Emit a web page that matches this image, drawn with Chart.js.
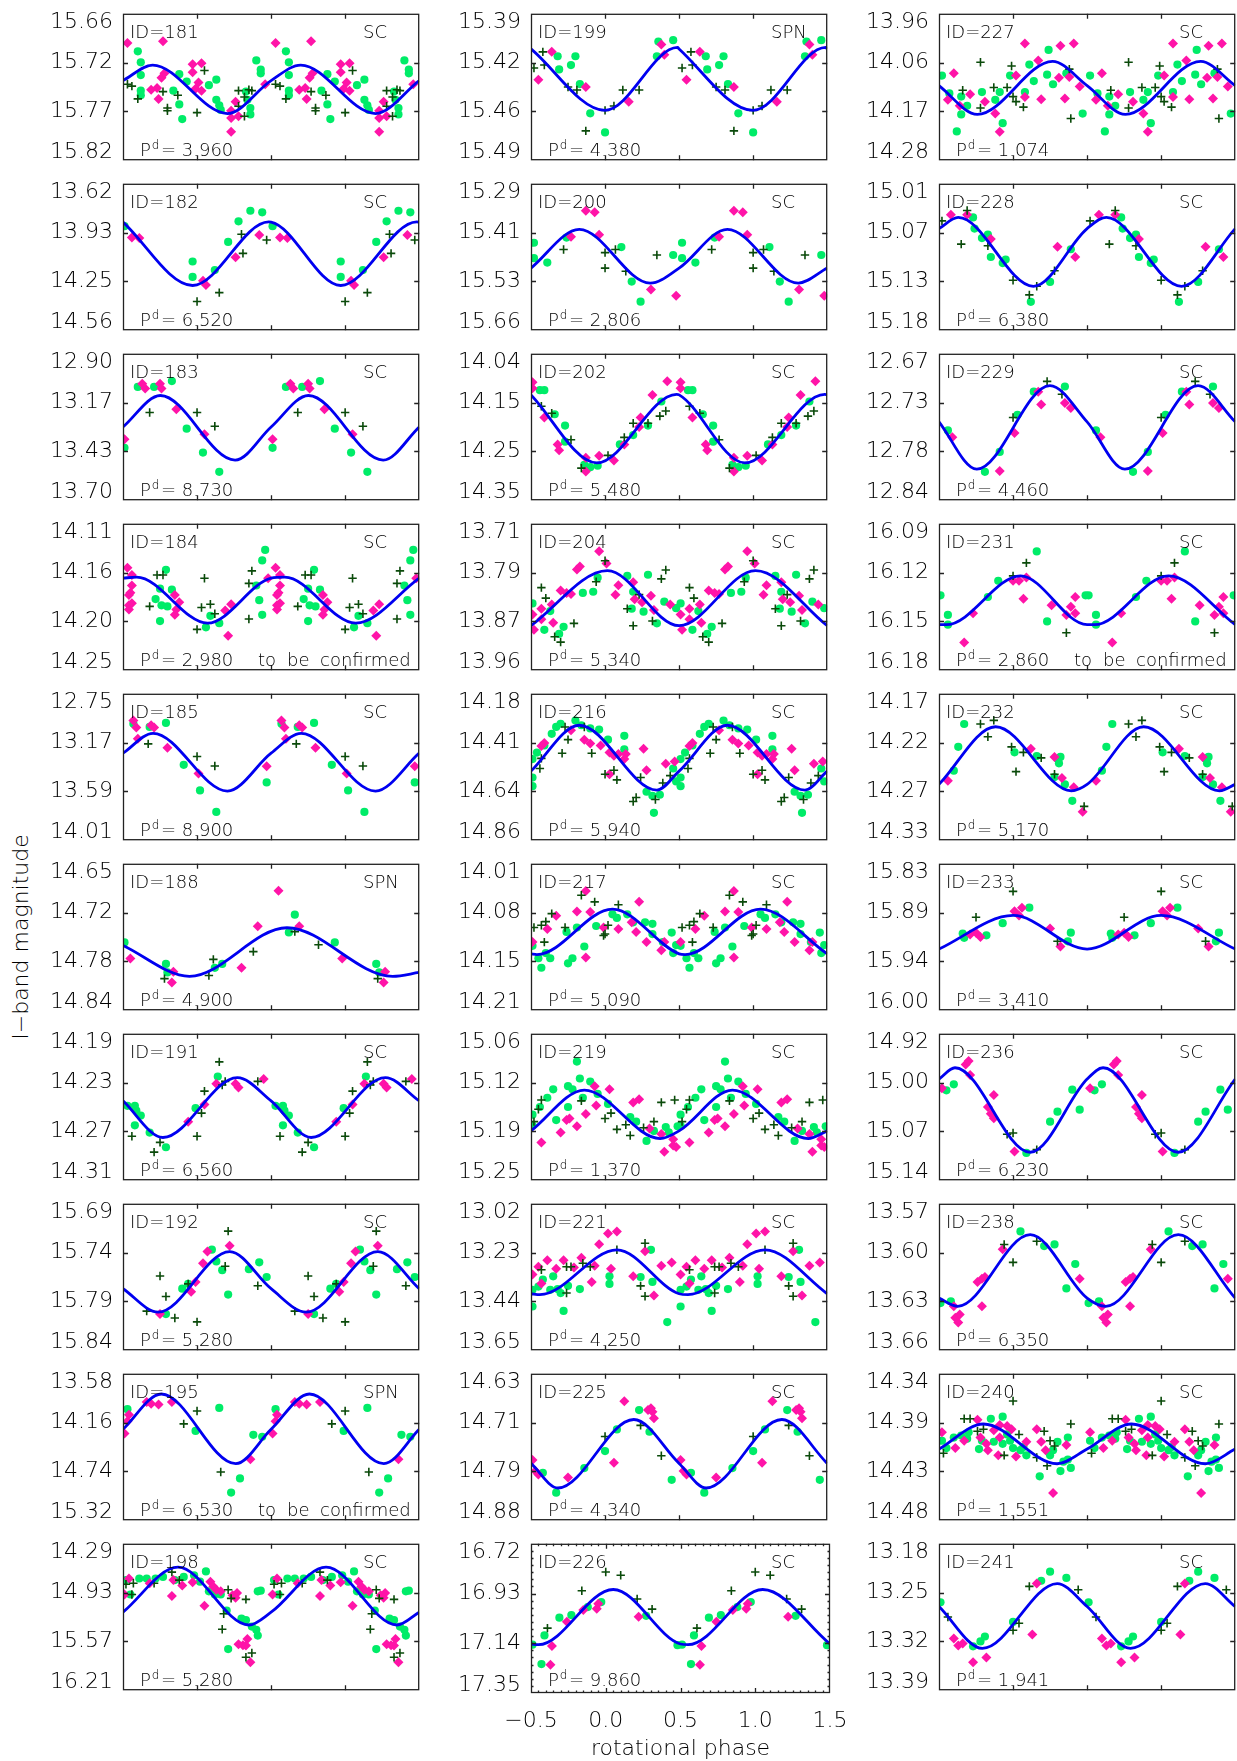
<!DOCTYPE html>
<html>
<head>
<meta charset="utf-8">
<script src="https://cdn.jsdelivr.net/npm/chart.js@4.4.0/dist/chart.umd.min.js"></script>
<style>
  html, body { margin: 0; padding: 0; background: #fff; }
  body { position: relative; width: 1237px; height: 1761px; overflow: hidden; }
  canvas { position: absolute; }
  #ytitle { position: absolute; left: 20px; top: 937px; transform: translate(-50%, -50%) rotate(-90deg);
            font: 200 22px "DejaVu Sans", sans-serif; color: #000; white-space: nowrap; }
</style>
</head>
<body>
<div id="ytitle">I−band magnitude</div>
<script>
// panels, column by column, top to bottom
const columnIds = [
  [181, 182, 183, 184, 185, 188, 191, 192, 195, 198],
  [199, 200, 202, 204, 216, 217, 219, 221, 225, 226],
  [227, 228, 229, 231, 232, 233, 236, 238, 240, 241]
];
const spnIds = [199, 188, 195];
const unconfirmedIds = [184, 195, 231];
const unfoldedIds = [188];      // points listed over the whole -0.5..1.5 range
const minorTickIds = [226];

const periods = {
  181: 3.960, 182: 6.520, 183: 8.730, 184: 2.980, 185: 8.900, 188: 4.900, 191: 6.560, 192: 5.280, 195: 6.530, 198: 5.280,
  199: 4.380, 200: 2.806, 202: 5.480, 204: 5.340, 216: 5.940, 217: 5.090, 219: 1.370, 221: 4.250, 225: 4.340, 226: 9.860,
  227: 1.074, 228: 6.380, 229: 4.460, 231: 2.860, 232: 5.170, 233: 3.410, 236: 6.230, 238: 6.350, 240: 1.551, 241: 1.941
};

const yTickLabels = {
  181: ['15.66','15.72','15.77','15.82'], 182: ['13.62','13.93','14.25','14.56'],
  183: ['12.90','13.17','13.43','13.70'], 184: ['14.11','14.16','14.20','14.25'],
  185: ['12.75','13.17','13.59','14.01'], 188: ['14.65','14.72','14.78','14.84'],
  191: ['14.19','14.23','14.27','14.31'], 192: ['15.69','15.74','15.79','15.84'],
  195: ['13.58','14.16','14.74','15.32'], 198: ['14.29','14.93','15.57','16.21'],
  199: ['15.39','15.42','15.46','15.49'], 200: ['15.29','15.41','15.53','15.66'],
  202: ['14.04','14.15','14.25','14.35'], 204: ['13.71','13.79','13.87','13.96'],
  216: ['14.18','14.41','14.64','14.86'], 217: ['14.01','14.08','14.15','14.21'],
  219: ['15.06','15.12','15.19','15.25'], 221: ['13.02','13.23','13.44','13.65'],
  225: ['14.63','14.71','14.79','14.88'], 226: ['16.72','16.93','17.14','17.35'],
  227: ['13.96','14.06','14.17','14.28'], 228: ['15.01','15.07','15.13','15.18'],
  229: ['12.67','12.73','12.78','12.84'], 231: ['16.09','16.12','16.15','16.18'],
  232: ['14.17','14.22','14.27','14.33'], 233: ['15.83','15.89','15.94','16.00'],
  236: ['14.92','15.00','15.07','15.14'], 238: ['13.57','13.60','13.63','13.66'],
  240: ['14.34','14.39','14.43','14.48'], 241: ['13.18','13.25','13.32','13.39']
};

const xTickValues = [-0.5, 0, 0.5, 1, 1.5];
const xTickLabels = ['−0.5', '0.0', '0.5', '1.0', '1.5'];

// fitted curve: edge value and extrema over one cycle [phase, mag]
const fitKnots = {
  181: [[-0.5,15.733],[-0.30,15.716],[0.205,15.769]],
  182: [[-0.5,13.866],[-0.03,14.273],[0.484,13.865]],
  183: [[-0.5,13.300],[-0.248,13.128],[0.257,13.481]],
  184: [[-0.5,14.162],[-0.408,14.161],[0.071,14.205]],
  185: [[-0.5,13.261],[-0.297,13.090],[0.205,13.587]],
  188: [[-0.5,14.756],[-0.051,14.796],[0.607,14.733],[1.321,14.796],[1.5,14.791]],
  191: [[-0.5,14.245],[-0.230,14.275],[0.272,14.226]],
  192: [[-0.5,15.777],[-0.263,15.801],[0.221,15.739]],
  195: [[-0.5,14.240],[-0.241,13.820],[0.261,14.648]],
  198: [[-0.5,15.187],[-0.129,14.597],[0.350,15.355]],
  199: [[-0.5,15.414],[0.0,15.456],[0.49,15.413]],
  200: [[-0.5,15.503],[-0.174,15.405],[0.305,15.541]],
  202: [[-0.5,14.127],[-0.056,14.271],[0.483,14.126]],
  204: [[-0.5,13.884],[0.016,13.790]],
  216: [[-0.5,14.539],[-0.174,14.326],[0.350,14.627]],
  217: [[-0.5,14.133],[-0.46,14.134],[0.05,14.072]],
  219: [[-0.5,15.186],[-0.140,15.133],[0.372,15.196]],
  221: [[-0.5,13.407],[-0.44,13.411],[0.08,13.218]],
  225: [[-0.5,14.783],[-0.318,14.825],[0.194,14.708]],
  226: [[-0.5,17.143],[-0.45,17.146],[0.05,16.913]],
  227: [[-0.5,14.117],[-0.241,14.180],[0.267,14.064]],
  228: [[-0.5,15.062],[-0.370,15.049],[0.138,15.129]],
  229: [[-0.5,12.749],[-0.245,12.804],[0.249,12.707]],
  231: [[-0.5,16.152],[-0.45,16.152],[0.05,16.122]],
  232: [[-0.5,14.269],[-0.118,14.206],[0.394,14.276]],
  233: [[-0.5,15.929],[0.0,15.890]],
  236: [[-0.5,14.988],[-0.392,14.971],[0.116,15.098]],
  238: [[-0.5,13.628],[-0.374,13.633],[0.116,13.589]],
  240: [[-0.5,14.412],[-0.200,14.388],[0.298,14.426]],
  241: [[-0.5,13.270],[-0.207,13.330],[0.298,13.237]]
};

// green circles [phase, mag], one cycle
const greenPts = {
  181: [[-0.40,15.701],[-0.38,15.713],[-0.38,15.727],[-0.38,15.744],[-0.38,15.749],[-0.16,15.744],[-0.12,15.726],[-0.12,15.759],[-0.10,15.775],[-0.07,15.734],[0.08,15.738],[0.13,15.732],[0.13,15.754],[0.15,15.760],[0.16,15.765],[0.33,15.745],[0.34,15.754],[0.36,15.763],[0.36,15.770],[0.40,15.711],[0.43,15.721],[0.43,15.725]],
  182: [[-0.49,13.892],[-0.03,14.119],[-0.03,14.218],[0.12,14.174],[0.21,13.993],[0.28,13.861],[0.36,13.793],[0.44,13.803]],
  183: [[-0.49,13.414],[-0.40,13.081],[-0.29,13.081],[-0.17,13.049],[-0.07,13.309],[0.04,13.440],[0.15,13.545]],
  184: [[-0.21,14.154],[-0.25,14.172],[-0.28,14.182],[-0.24,14.188],[-0.20,14.189],[-0.17,14.173],[-0.25,14.203],[0.06,14.209],[0.09,14.198],[0.15,14.205],[0.46,14.135],[0.44,14.145],[0.40,14.169],[0.42,14.183],[0.44,14.197]],
  185: [[-0.43,13.007],[-0.32,13.035],[-0.21,13.001],[-0.09,13.361],[0.02,13.582],[0.13,13.767],[0.47,13.513]],
  188: [[-0.49,14.752],[-0.21,14.780],[-0.20,14.791],[0.12,14.785],[0.17,14.780],[0.62,14.739],[0.66,14.716],[0.93,14.752],[1.21,14.780],[1.23,14.791]],
  191: [[-0.47,14.249],[-0.42,14.249],[-0.41,14.253],[-0.38,14.257],[-0.42,14.265],[-0.32,14.271],[-0.21,14.283],[-0.01,14.251],[0.14,14.225]],
  192: [[-0.21,15.803],[-0.10,15.777],[-0.06,15.772],[0.10,15.737],[0.13,15.749],[0.17,15.758],[0.21,15.783],[0.35,15.757],[0.42,15.750],[0.47,15.765]],
  195: [[-0.47,14.000],[-0.01,14.259],[0.15,13.985],[0.29,14.824],[0.23,14.992],[0.38,14.305],[0.44,14.328]],
  198: [[-0.48,14.766],[-0.45,14.955],[-0.39,14.745],[-0.34,14.745],[-0.28,14.745],[-0.23,14.724],[-0.15,14.766],[-0.09,14.724],[-0.02,14.703],[0.02,14.787],[0.06,14.652],[0.08,14.913],[0.12,14.955],[0.16,14.955],[0.20,15.166],[0.21,15.671],[0.30,15.271],[0.33,15.292],[0.37,15.376],[0.40,15.418],[0.41,15.494],[0.41,14.913],[0.43,14.905]],
  199: [[-0.32,15.419],[-0.31,15.428],[-0.23,15.425],[-0.20,15.419],[-0.17,15.438],[-0.10,15.458],[0.00,15.471],[0.35,15.419],[0.36,15.409],[0.46,15.408]],
  200: [[-0.48,15.439],[-0.48,15.478],[-0.39,15.489],[-0.26,15.426],[0.11,15.450],[0.18,15.537],[0.24,15.588],[0.46,15.470]],
  202: [[-0.44,14.117],[-0.41,14.117],[-0.34,14.168],[-0.27,14.192],[-0.27,14.226],[-0.14,14.275],[-0.10,14.280],[-0.05,14.277],[0.10,14.232],[0.19,14.212],[0.29,14.192],[0.38,14.141]],
  204: [[-0.49,13.846],[-0.37,13.859],[-0.41,13.891],[-0.31,13.898],[-0.28,13.886],[-0.15,13.828],[-0.08,13.826],[-0.05,13.802],[0.15,13.799],[0.19,13.826],[0.18,13.855],[0.26,13.860],[0.29,13.797],[0.35,13.880],[0.40,13.843],[0.48,13.854]],
  216: [[-0.49,14.483],[-0.49,14.569],[-0.49,14.609],[-0.46,14.453],[-0.41,14.420],[-0.36,14.366],[-0.33,14.334],[-0.30,14.319],[-0.20,14.304],[-0.16,14.326],[-0.10,14.341],[-0.04,14.346],[0.02,14.393],[0.13,14.375],[0.13,14.438],[0.28,14.635],[0.32,14.654],[0.33,14.733],[0.37,14.649],[0.46,14.527],[0.48,14.587]],
  217: [[-0.49,14.122],[-0.45,14.139],[-0.43,14.152],[-0.40,14.132],[-0.37,14.139],[-0.26,14.103],[-0.25,14.146],[-0.22,14.139],[-0.14,14.123],[-0.19,14.097],[-0.06,14.095],[0.05,14.079],[0.08,14.084],[0.15,14.079],[0.19,14.090],[0.27,14.090],[0.32,14.092],[0.32,14.106],[0.39,14.117],[0.45,14.104],[0.46,14.132],[0.48,14.121]],
  219: [[-0.49,15.165],[-0.49,15.179],[-0.44,15.155],[-0.39,15.143],[-0.35,15.132],[-0.33,15.172],[-0.25,15.128],[-0.25,15.155],[-0.22,15.132],[-0.19,15.096],[-0.17,15.118],[-0.15,15.143],[-0.10,15.122],[-0.05,15.138],[0.02,15.151],[0.17,15.168],[0.21,15.174],[0.28,15.199],[0.33,15.186],[0.41,15.181],[0.43,15.188],[0.49,15.180]],
  221: [[-0.49,13.390],[-0.49,13.462],[-0.45,13.376],[-0.42,13.346],[-0.37,13.390],[-0.35,13.332],[-0.32,13.387],[-0.30,13.404],[-0.28,13.481],[-0.25,13.373],[-0.17,13.387],[0.03,13.332],[0.03,13.365],[0.24,13.335],[0.31,13.218],[0.32,13.356],[0.42,13.529]],
  225: [[-0.42,14.799],[-0.33,14.833],[-0.14,14.791],[0.00,14.762],[0.08,14.725],[0.23,14.692],[0.30,14.729],[0.45,14.811]],
  226: [[-0.49,17.146],[-0.41,17.107],[-0.43,17.228],[-0.31,17.032],[-0.23,17.021],[-0.12,16.987],[-0.03,16.966],[0.27,17.024],[0.48,17.148]],
  227: [[-0.48,14.095],[-0.43,14.134],[-0.35,14.141],[-0.35,14.180],[-0.31,14.161],[-0.38,14.217],[-0.21,14.131],[-0.12,14.148],[-0.09,14.131],[-0.07,14.199],[-0.02,14.095],[0.08,14.131],[0.11,14.071],[0.14,14.107],[0.24,14.039],[0.23,14.093],[0.27,14.114],[0.36,14.090],[0.47,14.178]],
  228: [[-0.27,15.049],[-0.26,15.062],[-0.21,15.073],[-0.17,15.069],[-0.15,15.095],[-0.07,15.102],[-0.05,15.098],[0.12,15.147],[0.25,15.124],[0.39,15.086]],
  229: [[-0.44,12.759],[-0.19,12.807],[-0.09,12.784],[0.03,12.741],[0.14,12.714],[0.35,12.708]],
  231: [[-0.49,16.134],[-0.44,16.146],[-0.44,16.152],[-0.17,16.135],[-0.10,16.125],[0.16,16.107],[0.23,16.150],[0.49,16.134]],
  232: [[-0.40,14.254],[-0.37,14.228],[-0.33,14.203],[0.01,14.234],[0.16,14.238],[0.30,14.241],[0.31,14.246],[0.32,14.239],[0.28,14.261],[0.35,14.269],[0.40,14.287]],
  233: [[-0.34,15.911],[-0.33,15.916],[-0.18,15.913],[-0.07,15.899],[0.11,15.881],[0.37,15.920],[0.39,15.910]],
  236: [[-0.45,15.005],[-0.40,14.996],[0.09,15.099],[0.25,15.052],[0.30,15.037],[0.40,15.004],[0.45,15.034]],
  238: [[-0.49,13.631],[-0.42,13.630],[0.05,13.587],[0.21,13.596],[0.28,13.595],[0.36,13.622],[0.42,13.607]],
  240: [[-0.48,14.404],[-0.45,14.411],[-0.40,14.401],[-0.35,14.399],[-0.31,14.402],[-0.30,14.396],[-0.23,14.412],[-0.21,14.404],[-0.15,14.383],[-0.13,14.405],[-0.07,14.381],[-0.07,14.407],[-0.04,14.398],[-0.02,14.404],[0.00,14.411],[0.05,14.413],[0.07,14.410],[0.09,14.418],[0.18,14.438],[0.25,14.418],[0.27,14.413],[0.30,14.405],[0.32,14.433],[0.37,14.401],[0.37,14.422],[0.39,14.430],[0.34,14.424]],
  241: [[-0.49,13.264],[-0.27,13.327],[-0.22,13.320],[-0.19,13.313],[0.00,13.292],[0.19,13.233],[0.25,13.220],[0.36,13.229]]
};

// magenta diamonds [phase, mag], one cycle
const pinkPts = {
  181: [[-0.47,15.692],[-0.23,15.690],[-0.03,15.715],[0.03,15.714],[-0.03,15.724],[0.01,15.735],[-0.01,15.742],[0.03,15.744],[-0.31,15.743],[-0.27,15.741],[-0.26,15.753],[-0.24,15.730],[-0.22,15.725],[0.23,15.766],[0.26,15.756],[0.23,15.774],[0.28,15.772],[0.23,15.789],[0.46,15.737]],
  182: [[-0.44,13.964],[-0.39,13.968],[0.04,14.242],[0.06,14.269],[0.26,14.092],[0.42,13.948]],
  183: [[-0.49,13.367],[-0.37,13.063],[-0.35,13.089],[-0.25,13.063],[-0.24,13.089],[-0.14,13.203],[0.05,13.339]],
  184: [[-0.47,14.152],[-0.44,14.159],[-0.44,14.169],[-0.45,14.176],[-0.46,14.178],[-0.44,14.186],[-0.46,14.192],[-0.46,14.188],[-0.15,14.178],[-0.12,14.185],[-0.15,14.197],[-0.14,14.192],[0.19,14.193],[0.23,14.187],[0.21,14.217],[0.48,14.162]],
  185: [[-0.43,12.979],[-0.41,13.040],[-0.40,13.137],[-0.31,13.021],[-0.29,13.040],[-0.20,13.214],[0.01,13.435],[0.47,13.374]],
  188: [[-0.45,14.773],[-0.16,14.790],[-0.17,14.804],[0.30,14.785],[0.41,14.731],[0.55,14.685],[0.69,14.731],[0.98,14.773],[1.27,14.790],[1.26,14.804]],
  191: [[-0.06,14.262],[0.05,14.248],[0.13,14.231],[0.26,14.231],[0.28,14.234],[0.45,14.227]],
  192: [[-0.25,15.803],[-0.04,15.780],[-0.01,15.770],[0.04,15.751],[0.07,15.739],[0.22,15.733]],
  195: [[-0.49,14.290],[-0.47,14.145],[-0.46,14.068],[-0.34,13.916],[-0.31,13.935],[-0.26,13.946],[-0.17,13.916],[0.36,14.595]],
  198: [[-0.49,14.955],[-0.46,14.745],[-0.32,14.808],[-0.17,14.976],[-0.16,14.766],[-0.10,14.837],[-0.03,14.795],[0.05,15.103],[0.09,14.787],[0.11,14.850],[0.13,14.892],[0.16,14.913],[0.24,14.964],[0.27,14.934],[0.26,14.997],[0.28,15.608],[0.31,15.621],[0.34,15.537],[0.33,15.625],[0.36,15.844]],
  199: [[-0.45,15.435],[-0.36,15.416],[-0.13,15.440],[0.16,15.450],[0.38,15.411],[0.40,15.418]],
  200: [[-0.23,15.424],[-0.13,15.358],[-0.07,15.362],[-0.04,15.419],[0.31,15.557],[0.48,15.573]],
  202: [[-0.49,14.100],[-0.49,14.113],[-0.41,14.175],[-0.32,14.232],[-0.31,14.244],[-0.13,14.260],[-0.13,14.289],[-0.04,14.256],[0.06,14.266],[0.13,14.232],[0.23,14.195],[0.24,14.175],[0.32,14.127],[0.42,14.098]],
  204: [[-0.49,13.865],[-0.48,13.891],[-0.43,13.855],[-0.43,13.873],[-0.36,13.848],[-0.35,13.879],[-0.30,13.824],[-0.26,13.828],[-0.23,13.830],[-0.19,13.788],[-0.17,13.783],[-0.04,13.757],[0.01,13.778],[0.09,13.815],[0.07,13.831],[0.19,13.810],[0.20,13.839],[0.25,13.844],[0.31,13.833],[0.33,13.857],[0.44,13.848]],
  216: [[-0.43,14.423],[-0.41,14.408],[-0.23,14.349],[-0.14,14.393],[-0.10,14.411],[-0.03,14.420],[0.03,14.554],[0.03,14.453],[0.06,14.468],[0.09,14.460],[0.14,14.460],[0.13,14.483],[0.26,14.435],[0.28,14.535],[0.41,14.505],[0.47,14.495]],
  217: [[-0.49,14.117],[-0.39,14.099],[-0.33,14.081],[-0.19,14.075],[-0.13,14.047],[-0.13,14.138],[-0.10,14.076],[-0.01,14.097],[0.09,14.099],[0.18,14.090],[0.23,14.062],[0.21,14.103],[0.28,14.117],[0.38,14.128],[0.40,14.117]],
  219: [[-0.43,15.201],[-0.30,15.188],[-0.26,15.172],[-0.24,15.170],[-0.19,15.180],[-0.13,15.164],[-0.07,15.128],[-0.06,15.153],[0.03,15.132],[0.19,15.149],[0.23,15.145],[0.30,15.183],[0.40,15.213],[0.46,15.205],[0.48,15.207],[0.38,15.190],[0.46,15.197]],
  221: [[-0.49,13.324],[-0.45,13.291],[-0.43,13.363],[-0.39,13.263],[-0.33,13.300],[-0.28,13.263],[-0.21,13.294],[-0.16,13.252],[-0.09,13.356],[-0.07,13.287],[-0.04,13.194],[0.02,13.148],[0.08,13.139],[0.04,13.300],[0.19,13.332],[0.27,13.224],[0.33,13.415],[0.38,13.287],[0.45,13.273]],
  225: [[-0.49,14.777],[-0.47,14.796],[-0.45,14.802],[-0.25,14.807],[0.06,14.782],[0.13,14.677],[0.29,14.692],[0.31,14.689],[0.32,14.695],[0.33,14.706]],
  226: [[-0.36,17.152],[-0.37,17.231],[-0.26,17.049],[-0.15,17.000],[-0.06,16.994],[-0.05,16.973],[0.22,17.028]],
  227: [[-0.40,14.090],[-0.44,14.148],[-0.36,14.161],[-0.29,14.136],[-0.19,14.152],[-0.12,14.178],[-0.09,14.218],[0.02,14.095],[0.08,14.142],[0.08,14.025],[0.17,14.062],[0.19,14.147],[0.31,14.100],[0.32,14.030],[0.35,14.145],[0.41,14.025],[0.38,14.098],[0.45,14.119]],
  228: [[-0.42,15.046],[-0.31,15.046],[-0.15,15.074],[0.30,15.083],[0.42,15.095]],
  229: [[-0.41,12.767],[-0.09,12.806],[0.01,12.762],[0.17,12.714],[0.19,12.729],[0.35,12.727],[0.39,12.733]],
  231: [[-0.33,16.163],[-0.27,16.145],[0.00,16.125],[0.04,16.125],[0.09,16.123],[0.07,16.136],[0.26,16.140],[0.36,16.146],[0.39,16.141],[0.42,16.145],[0.42,16.135]],
  232: [[-0.44,14.265],[0.12,14.230],[0.28,14.239],[0.33,14.262],[0.41,14.272],[0.47,14.299]],
  233: [[-0.29,15.912],[-0.25,15.910],[-0.22,15.915],[0.01,15.885],[0.04,15.890],[0.06,15.881],[0.25,15.905],[0.32,15.926]],
  236: [[-0.48,15.002],[-0.32,14.966],[-0.30,14.961],[-0.29,14.982],[-0.17,15.030],[-0.15,15.040],[-0.13,15.047],[-0.13,15.012],[0.01,15.097]],
  238: [[-0.40,13.633],[-0.39,13.640],[-0.37,13.643],[-0.36,13.638],[-0.24,13.618],[-0.21,13.616],[-0.19,13.615],[-0.21,13.633],[-0.07,13.598],[0.45,13.616]],
  240: [[-0.48,14.396],[-0.39,14.411],[-0.33,14.404],[-0.24,14.384],[-0.22,14.401],[-0.18,14.407],[-0.17,14.413],[-0.13,14.394],[-0.10,14.418],[-0.09,14.401],[-0.09,14.389],[-0.04,14.390],[-0.01,14.393],[0.02,14.419],[0.09,14.405],[0.16,14.393],[0.19,14.405],[0.22,14.413],[0.27,14.454],[0.36,14.408]],
  241: [[-0.40,13.316],[-0.37,13.326],[-0.34,13.323],[-0.27,13.350],[-0.18,13.343],[0.13,13.310],[0.16,13.237]]
};

// dark green crosses [phase, mag], one cycle
const plusPts = {
  181: [[-0.47,15.737],[-0.44,15.739],[-0.40,15.753],[-0.23,15.745],[-0.20,15.763],[-0.20,15.766],[-0.13,15.749],[0.00,15.768],[0.05,15.722],[0.28,15.744],[0.28,15.761],[0.32,15.772],[0.32,15.751],[0.35,15.743],[0.37,15.744]],
  182: [[0.00,14.376],[0.15,14.319],[0.30,13.944],[0.31,14.067],[0.47,13.981]],
  183: [[-0.32,13.221],[0.00,13.221],[0.12,13.296]],
  184: [[-0.32,14.189],[-0.27,14.159],[-0.23,14.159],[0.05,14.162],[0.03,14.190],[0.09,14.187],[0.12,14.196],[0.00,14.211],[0.35,14.201],[0.37,14.155],[0.35,14.167]],
  185: [[-0.33,13.181],[0.00,13.289],[0.12,13.372]],
  188: [[-0.22,14.799],[0.08,14.795],[0.11,14.774],[0.38,14.764],[0.66,14.738],[0.82,14.755],[1.22,14.799]],
  191: [[-0.44,14.274],[-0.25,14.279],[-0.29,14.287],[0.00,14.274],[0.03,14.255],[0.05,14.237],[0.15,14.213],[0.17,14.232],[0.19,14.229],[0.41,14.229]],
  192: [[-0.34,15.800],[-0.25,15.764],[-0.21,15.785],[-0.15,15.807],[-0.06,15.772],[0.00,15.811],[0.19,15.754],[0.21,15.718],[0.41,15.774]],
  195: [[-0.09,14.175],[0.00,14.023],[0.16,14.748]],
  198: [[-0.48,14.821],[-0.43,14.808],[-0.44,14.955],[-0.29,14.808],[-0.17,14.661],[-0.12,14.766],[0.18,15.208],[0.17,15.410],[0.21,14.892],[0.23,15.006],[0.33,15.019],[0.33,15.777],[0.37,15.722]],
  199: [[-0.48,15.427],[-0.42,15.416],[-0.41,15.425],[-0.25,15.440],[-0.19,15.442],[-0.13,15.470],[0.00,15.456],[0.06,15.453],[0.12,15.442],[0.23,15.442]],
  200: [[-0.28,15.456],[0.00,15.464],[0.00,15.503],[0.07,15.456],[0.14,15.511],[0.35,15.470]],
  202: [[-0.43,14.151],[-0.36,14.166],[-0.23,14.222],[-0.16,14.282],[0.02,14.255],[0.13,14.217],[0.19,14.187],[0.29,14.187],[0.37,14.172],[0.41,14.161]],
  204: [[-0.43,13.819],[-0.40,13.837],[-0.34,13.903],[-0.30,13.912],[-0.21,13.880],[-0.06,13.809],[0.00,13.773],[0.19,13.884],[0.15,13.855],[0.23,13.831],[0.32,13.876],[0.38,13.804],[0.41,13.789]],
  216: [[-0.44,14.527],[-0.43,14.480],[-0.29,14.456],[-0.25,14.393],[-0.27,14.334],[-0.14,14.334],[-0.09,14.456],[0.00,14.554],[0.06,14.535],[0.08,14.580],[0.19,14.680],[0.21,14.662],[0.24,14.569],[0.34,14.671],[0.39,14.594],[0.44,14.560]],
  217: [[-0.48,14.097],[-0.43,14.094],[-0.41,14.117],[-0.40,14.089],[-0.36,14.078],[-0.27,14.097],[-0.16,14.053],[-0.07,14.062],[-0.01,14.108],[0.02,14.094],[0.09,14.066],[0.00,14.106]],
  219: [[-0.48,15.174],[-0.45,15.158],[-0.43,15.146],[-0.16,15.147],[0.00,15.170],[0.04,15.163],[0.08,15.184],[0.14,15.178],[0.17,15.192],[0.26,15.182],[0.33,15.174],[0.38,15.149],[0.47,15.146]],
  221: [[-0.43,13.304],[-0.26,13.291],[-0.23,13.291],[-0.15,13.276],[-0.10,13.291],[-0.26,13.404],[0.08,13.218],[0.24,13.373],[0.27,13.418],[0.27,13.190]],
  225: [[0.00,14.737],[0.24,14.718],[0.38,14.770]],
  226: [[-0.39,17.076],[-0.16,16.918],[0.00,16.839],[0.10,16.853],[0.21,16.953],[0.31,16.996]],
  227: [[-0.22,14.066],[-0.22,14.166],[-0.13,14.121],[-0.04,14.121],[-0.01,14.074],[0.00,14.141],[0.02,14.152],[0.07,14.164],[-0.34,14.127],[0.39,14.189],[0.38,14.081]],
  228: [[-0.48,15.053],[-0.35,15.080],[-0.31,15.041],[-0.17,15.082],[0.00,15.122],[0.11,15.139],[0.16,15.129],[0.28,15.111]],
  229: [[0.00,12.744],[0.23,12.702],[0.33,12.717]],
  231: [[0.00,16.122],[0.09,16.114],[0.36,16.157]],
  232: [[-0.22,14.203],[-0.17,14.217],[-0.13,14.199],[-0.01,14.228],[0.02,14.255],[0.07,14.234],[0.19,14.240],[0.28,14.258],[0.48,14.293]],
  233: [[-0.25,15.892],[0.00,15.862],[0.30,15.920]],
  236: [[-0.04,15.071],[0.00,15.069],[0.16,15.094]],
  238: [[-0.06,13.595],[0.00,13.606],[0.16,13.593]],
  240: [[-0.47,14.416],[-0.33,14.383],[-0.29,14.383],[-0.24,14.395],[-0.20,14.393],[0.00,14.366],[-0.06,14.418],[0.04,14.398],[0.16,14.420],[0.21,14.395],[0.25,14.404],[0.23,14.428],[0.28,14.409],[0.39,14.388]],
  241: [[-0.44,13.285],[0.00,13.304],[0.04,13.294],[0.11,13.241],[0.44,13.246]]
};

const FONT = '"DejaVu Sans", sans-serif';
const TXT = '#000';
const PANEL_W = 299, PANEL_H = 152;
const colLeft = [123, 531, 939];
const rowTop0 = 11, rowPitch = 170;

// phase-folded points are shown twice, one cycle apart
function fold(pts, id) {
  if (unfoldedIds.includes(id)) return pts.map(([p, m]) => ({ x: p, y: m }));
  return pts.flatMap(([p, m]) => [{ x: p, y: m }, { x: p + 1, y: m }]);
}
function fitLine(id) {
  const k = fitKnots[id];
  if (unfoldedIds.includes(id)) return k.map(([p, m]) => ({ x: p, y: m }));
  return [...k.map(([p, m]) => ({ x: p, y: m })), ...k.map(([p, m]) => ({ x: p + 1, y: m })), { x: 1.5, y: k[0][1] }];
}

const framePlugin = {
  id: 'frame',
  afterDraw(chart) {
    const { ctx, chartArea: a, scales: { x, y } } = chart;
    const o = chart.options.plugins.frame;
    const lab = yTickLabels[o.id];
    const lo = +lab[0], hi = +lab[3];
    ctx.save();
    ctx.strokeStyle = '#222';
    ctx.lineWidth = 1.3;
    ctx.strokeRect(a.left + 0.5, a.top + 0.5, a.width - 1, a.height - 1);

    ctx.beginPath();
    xTickValues.slice(1, -1).forEach(v => {
      const px = Math.round(x.getPixelForValue(v)) + 0.5;
      ctx.moveTo(px, a.bottom); ctx.lineTo(px, a.bottom - 5);
      ctx.moveTo(px, a.top); ctx.lineTo(px, a.top + 5);
    });
    [1, 2].forEach(k => {
      const py = Math.round(y.getPixelForValue(lo + (hi - lo) * k / 3)) + 0.5;
      ctx.moveTo(a.left, py); ctx.lineTo(a.left + 5, py);
      ctx.moveTo(a.right, py); ctx.lineTo(a.right - 5, py);
    });
    if (minorTickIds.includes(o.id)) {
      for (let k = 1; k < 40; k++) {
        if (k % 10 === 0) continue;
        const px = Math.round(x.getPixelForValue(-0.5 + 0.05 * k)) + 0.5;
        ctx.moveTo(px, a.bottom); ctx.lineTo(px, a.bottom - 2.5);
        ctx.moveTo(px, a.top); ctx.lineTo(px, a.top + 2.5);
      }
      for (let k = 1; k < 21; k++) {
        if (k % 7 === 0) continue;
        const py = Math.round(y.getPixelForValue(lo + (hi - lo) * k / 21)) + 0.5;
        ctx.moveTo(a.left, py); ctx.lineTo(a.left + 2.5, py);
        ctx.moveTo(a.right, py); ctx.lineTo(a.right - 2.5, py);
      }
    }
    ctx.stroke();

    // y tick labels
    ctx.fillStyle = TXT;
    ctx.font = `200 22px ${FONT}`;
    ctx.textAlign = 'right';
    ctx.textBaseline = 'middle';
    lab.forEach((t, k) => {
      let py = y.getPixelForValue(lo + (hi - lo) * k / 3);
      if (k === 0) py += 8;
      if (k === 3) py -= 7.5;
      ctx.fillText(t, a.left - 10, py);
    });

    // panel texts
    ctx.textAlign = 'left';
    ctx.textBaseline = 'alphabetic';
    ctx.font = `200 18px ${FONT}`;
    ctx.fillText('ID=' + o.id, a.left + 7, a.top + 24);
    ctx.fillText(spnIds.includes(o.id) ? 'SPN' : 'SC', a.left + 240, a.top + 24);
    const by = a.top + 142;
    let px = a.left + 17;
    ctx.fillText('P', px, by);
    px += ctx.measureText('P').width + 1;
    ctx.font = `200 12px ${FONT}`;
    ctx.fillText('d', px, by - 7);
    px += ctx.measureText('d').width + 1.5;
    ctx.font = `200 18px ${FONT}`;
    ctx.fillText('= ' + periods[o.id].toFixed(3), px, by);
    if (unconfirmedIds.includes(o.id)) {
      ctx.fillText('to', a.left + 135, by);
      ctx.fillText('be', a.left + 164, by);
      ctx.fillText('confirmed', a.left + 197, by);
    }

    // x tick labels and title under the bottom middle panel
    if (o.xLabels) {
      ctx.font = `200 22px ${FONT}`;
      ctx.textAlign = 'center';
      xTickValues.forEach((v, i) => ctx.fillText(xTickLabels[i], x.getPixelForValue(v), a.bottom + 34));
      ctx.fillText('rotational phase', (a.left + a.right) / 2, a.bottom + 62);
    }
    ctx.restore();
  }
};

columnIds.forEach((ids, c) => ids.forEach((id, r) => {
  const bottomMid = c === 1 && r === ids.length - 1;
  const padL = c === 0 ? 123 : 95, padT = 3;
  const padR = bottomMid ? 24 : 3, padB = bottomMid ? 70 : 3;
  const cv = document.createElement('canvas');
  cv.width = padL + PANEL_W + padR;
  cv.height = padT + PANEL_H + padB;
  cv.style.left = (colLeft[c] - padL) + 'px';
  cv.style.top = (rowTop0 + rowPitch * r - padT) + 'px';
  document.body.appendChild(cv);
  const lab = yTickLabels[id];

  new Chart(cv, {
    type: 'scatter',
    data: {
      datasets: [
        { data: fitLine(id), showLine: true, borderColor: '#0000f0', borderWidth: 2.8, pointRadius: 0,
          cubicInterpolationMode: 'monotone', clip: 0 },
        { data: fold(plusPts[id], id), pointStyle: 'cross', pointRadius: 4.2, pointBorderColor: '#0a4a0a',
          pointBorderWidth: 1.6, clip: 0 },
        { data: fold(pinkPts[id], id), pointStyle: 'rectRot', pointRadius: 5, pointBackgroundColor: '#ff14a8',
          pointBorderWidth: 0, clip: 0 },
        { data: fold(greenPts[id], id), pointStyle: 'circle', pointRadius: 4.1, pointBackgroundColor: '#00ec68',
          pointBorderWidth: 0, clip: 0 }
      ]
    },
    options: {
      responsive: false,
      animation: false,
      devicePixelRatio: 1,
      events: [],
      layout: { padding: { left: padL, right: padR, top: padT, bottom: padB } },
      scales: {
        x: { type: 'linear', min: -0.5, max: 1.5, display: false },
        y: { type: 'linear', min: +lab[0], max: +lab[3], reverse: true, display: false }
      },
      plugins: {
        legend: { display: false },
        tooltip: { enabled: false },
        frame: { id, xLabels: bottomMid }
      }
    },
    plugins: [framePlugin]
  });
}));
</script>
</body>
</html>
